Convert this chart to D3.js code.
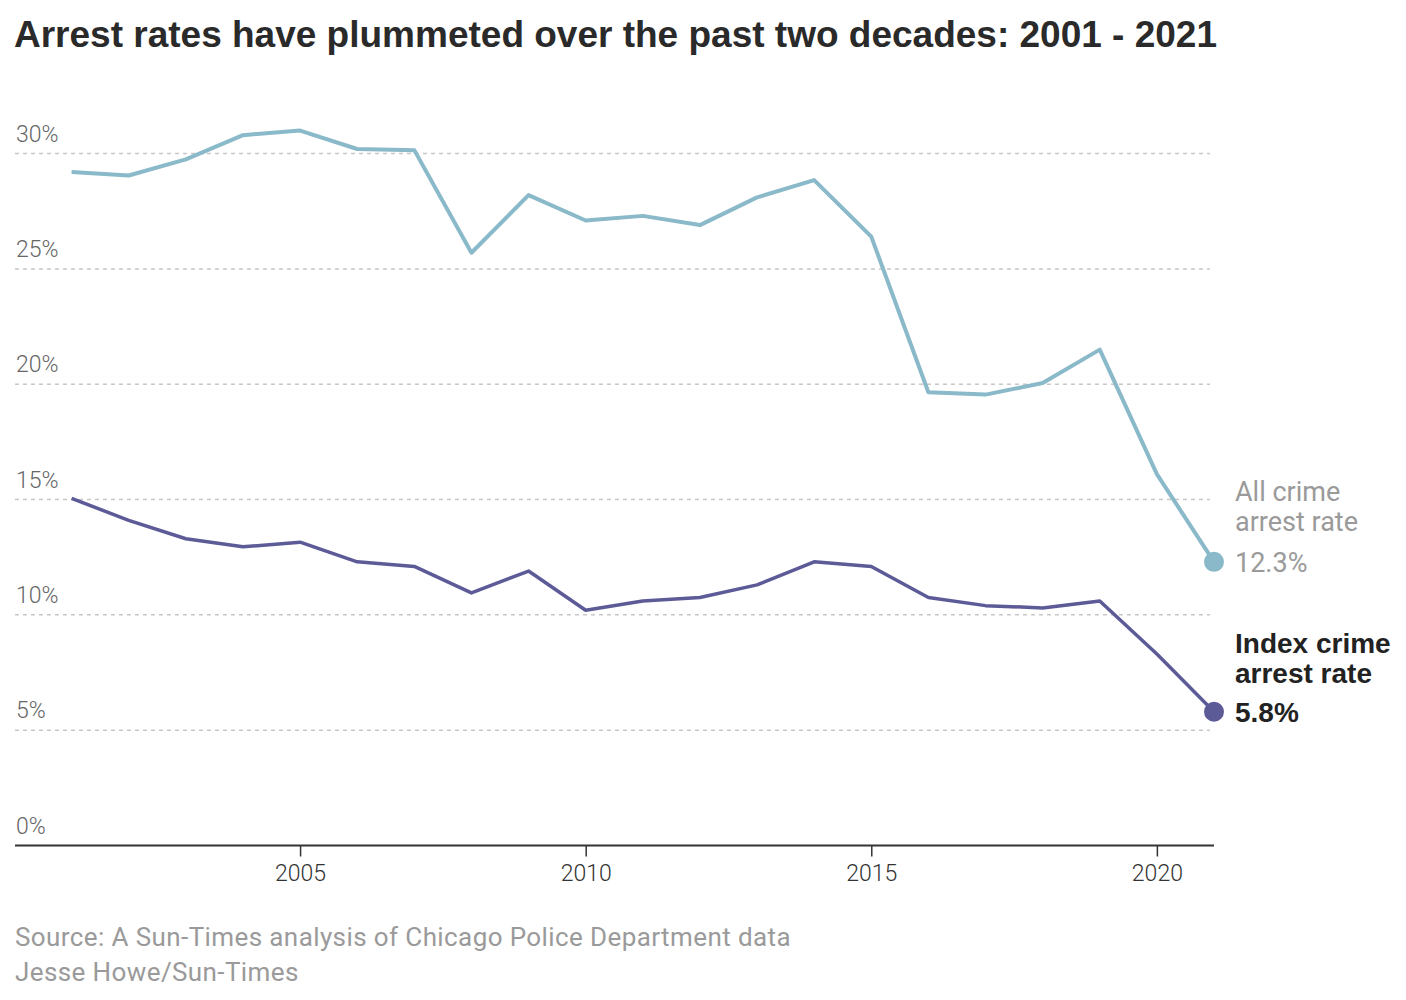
<!DOCTYPE html>
<html>
<head>
<meta charset="utf-8">
<script src="https://cdn.jsdelivr.net/npm/d3@7"></script>
<style>
  html, body { margin: 0; padding: 0; background: #fff; }
  svg { display: block; }
</style>
</head>
<body>
<svg id="chart" width="1406" height="1000"></svg>
<script>
const years = [2001,2002,2003,2004,2005,2006,2007,2008,2009,2010,2011,2012,2013,2014,2015,2016,2017,2018,2019,2020,2021];
const allCrime = [29.2,29.05,29.75,30.8,31.0,30.2,30.15,25.7,28.2,27.1,27.3,26.9,28.1,28.85,26.4,19.65,19.55,20.05,21.5,16.1,12.3];
const indexCrime = [15.05,14.1,13.3,12.95,13.15,12.3,12.1,10.95,11.9,10.2,10.6,10.75,11.3,12.3,12.1,10.75,10.4,10.3,10.6,8.3,5.8];
const yTicks = [0,5,10,15,20,25,30];
const xTicks = [2005,2010,2015,2020];
const titleText = "Arrest rates have plummeted over the past two decades: 2001 - 2021";
const sourceLines = ["Source: A Sun-Times analysis of Chicago Police Department data", "Jesse Howe/Sun-Times"];

const font = "'Liberation Sans', Arial, sans-serif";
const lightFont = "Roboto, 'Liberation Sans', Arial, sans-serif";
const svg = d3.select("#chart");

const x = d3.scaleLinear().domain([2001, 2021]).range([71.6, 1214]);
const y = d3.scaleLinear().domain([0, 30]).range([845.5, 153.6]);

// title
svg.append("text")
  .attr("x", 14).attr("y", 47)
  .attr("font-family", font).attr("font-weight", 700)
  .attr("font-size", 37).attr("fill", "#2a2a2a")
  .text(titleText);

// gridlines
svg.append("g").selectAll("line")
  .data(yTicks.filter(d => d > 0))
  .join("line")
  .attr("x1", 15).attr("x2", 1210)
  .attr("y1", d => y(d)).attr("y2", d => y(d))
  .attr("stroke", "#c8c8c8").attr("stroke-width", 1.5)
  .attr("stroke-dasharray", "4,4");

// y labels
svg.append("g").selectAll("text")
  .data(yTicks)
  .join("text")
  .attr("x", 16).attr("y", d => y(d) - 12)
  .attr("font-family", lightFont).attr("font-weight", 300).attr("font-size", 23)
  .attr("fill", "#666")
  .text(d => d + "%");

// x axis
const xAxis = d3.axisBottom(x).tickValues(xTicks).tickFormat(d3.format("d")).tickSize(11).tickPadding(8);
const gx = svg.append("g").attr("transform", `translate(0,${y(0)})`).call(xAxis);
gx.select(".domain").remove();
gx.selectAll(".tick line").attr("stroke", "#333").attr("stroke-width", 1.5);
gx.selectAll(".tick text").attr("font-family", lightFont).attr("font-weight", 300).attr("font-size", 23).attr("fill", "#333");
svg.append("line")
  .attr("x1", 15).attr("x2", x(2021))
  .attr("y1", y(0)).attr("y2", y(0))
  .attr("stroke", "#333").attr("stroke-width", 2);

// lines
const line = d3.line().x((d, i) => x(years[i])).y(d => y(d));
svg.append("path").datum(allCrime)
  .attr("d", line).attr("fill", "none")
  .attr("stroke", "#8ab9c9").attr("stroke-width", 4)
  .attr("stroke-linejoin", "round");
svg.append("path").datum(indexCrime)
  .attr("d", line).attr("fill", "none")
  .attr("stroke", "#5c5b97").attr("stroke-width", 3.5)
  .attr("stroke-linejoin", "round");

// end dots
const last = years.length - 1;
svg.append("circle").attr("cx", x(years[last])).attr("cy", y(allCrime[last])).attr("r", 10).attr("fill", "#8ab9c9");
svg.append("circle").attr("cx", x(years[last])).attr("cy", y(indexCrime[last])).attr("r", 10).attr("fill", "#5c5b97");

// end labels
const lx = 1235;
const allY = y(allCrime[last]);
const g1 = svg.append("g").attr("font-family", lightFont).attr("font-weight", 400).attr("font-size", 27).attr("fill", "#9a9a9a");
g1.append("text").attr("x", lx).attr("y", allY - 61).text("All crime");
g1.append("text").attr("x", lx).attr("y", allY - 31).text("arrest rate");
g1.append("text").attr("x", lx).attr("y", allY + 10).text(allCrime[last].toFixed(1) + "%");

const idxY = y(indexCrime[last]);
const g2 = svg.append("g").attr("font-family", font).attr("font-size", 28).attr("font-weight", 700).attr("fill", "#222");
g2.append("text").attr("x", lx).attr("y", idxY - 59).text("Index crime");
g2.append("text").attr("x", lx).attr("y", idxY - 29).text("arrest rate");
g2.append("text").attr("x", lx).attr("y", idxY + 10).text(indexCrime[last].toFixed(1) + "%");

// source
svg.append("g").selectAll("text")
  .data(sourceLines)
  .join("text")
  .attr("x", 15).attr("y", (d, i) => 946 + i * 35)
  .attr("font-family", lightFont).attr("font-weight", 400).attr("font-size", 26)
  .attr("letter-spacing", 0.4)
  .attr("fill", "#9a9a9a")
  .text(d => d);
</script>
</body>
</html>
